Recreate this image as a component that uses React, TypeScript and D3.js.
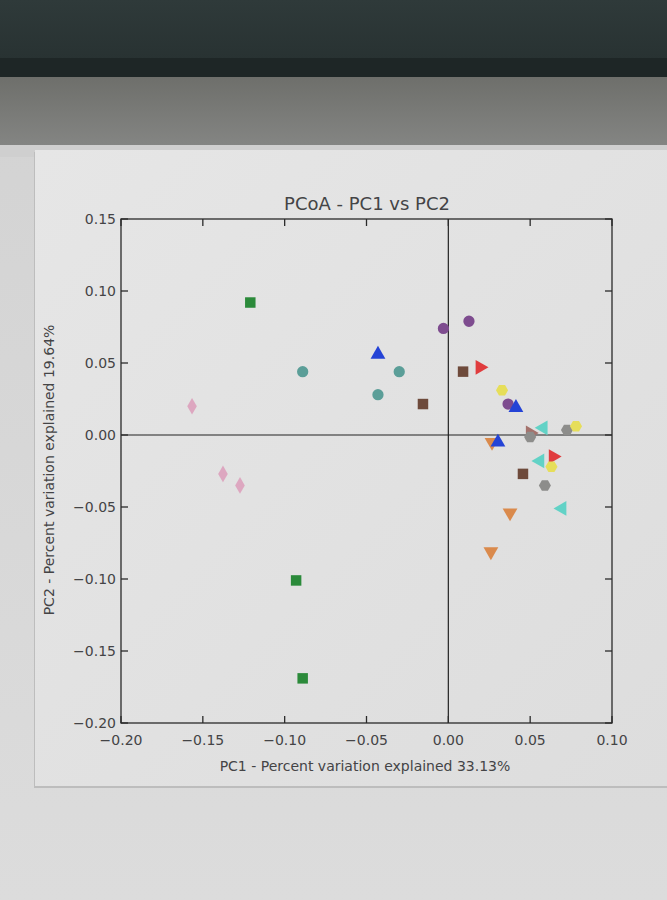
import * as d3 from "d3";
import React from "react";

// sample coordinates
const pc1 = [
  -0.121, -0.093, -0.089, -0.089, -0.043, -0.03, -0.043, -0.0155, -0.003, 0.0126,
  0.009, 0.0193, 0.0328, 0.0365, 0.0413, 0.0267, 0.0303, 0.05, 0.05, 0.058,
  0.0725, 0.078, 0.064, 0.056, 0.063, 0.0456, 0.059, 0.0695, 0.0377, 0.026,
  -0.1566, -0.1377, -0.1273,
];
const pc2 = [
  0.092, -0.101, -0.169, 0.044, 0.028, 0.044, 0.056, 0.0215, 0.074, 0.079,
  0.044, 0.047, 0.031, 0.0215, 0.019, -0.005, -0.005, 0.0014, -0.0014, 0.005,
  0.0035, 0.006, -0.015, -0.018, -0.022, -0.027, -0.035, -0.051, -0.054, -0.081,
  0.02, -0.027, -0.035,
];
const groups = [
  "A", "A", "A", "B", "B", "B", "C", "D", "E", "E",
  "D", "F", "G", "E", "C", "H", "C", "I", "J", "K",
  "J", "G", "F", "K", "G", "D", "J", "K", "H", "H",
  "L", "L", "L",
];
const xTicks = [-0.2, -0.15, -0.1, -0.05, 0, 0.05, 0.1];
const yTicks = [-0.2, -0.15, -0.1, -0.05, 0, 0.05, 0.1, 0.15];

const hexagon = {
  draw(context: any, size: number) {
    const r = Math.sqrt(size / 2.598);
    for (let i = 0; i < 6; i++) {
      const a = (Math.PI / 3) * i;
      const px = r * Math.cos(a);
      const py = r * Math.sin(a);
      if (i === 0) context.moveTo(px, py);
      else context.lineTo(px, py);
    }
    context.closePath();
  },
};

// group -> colour, marker shape, rotation, size
const style: Record<string, { color: string; type: any; rot: number; size: number; sx?: number }> = {
  A: { color: "#2b8a3a", type: d3.symbolSquare, rot: 0, size: 110 },
  B: { color: "#5b9e98", type: d3.symbolCircle, rot: 0, size: 100 },
  C: { color: "#2443d6", type: d3.symbolTriangle, rot: 0, size: 95 },
  D: { color: "#6e4a3b", type: d3.symbolSquare, rot: 0, size: 110 },
  E: { color: "#7e4c8f", type: d3.symbolCircle, rot: 0, size: 100 },
  F: { color: "#e03c3e", type: d3.symbolTriangle, rot: 90, size: 95 },
  G: { color: "#e6de5a", type: hexagon, rot: 0, size: 95 },
  H: { color: "#da8a4c", type: d3.symbolTriangle, rot: 180, size: 95 },
  I: { color: "#a4726c", type: d3.symbolTriangle, rot: 90, size: 95 },
  J: { color: "#8d8d8b", type: hexagon, rot: 0, size: 95 },
  K: { color: "#62d2c6", type: d3.symbolTriangle, rot: -90, size: 95 },
  L: { color: "#dc9cba", type: d3.symbolDiamond, rot: 0, size: 80, sx: 1 },
};

const W = 667;
const H = 900;
const x = d3.scaleLinear().domain([-0.2, 0.1]).range([121, 612]);
const y = d3.scaleLinear().domain([-0.2, 0.15]).range([723, 219]);
const fmt = d3.format(".2f");
const label = (v: number) => fmt(v).replace("-", "\u2212");
const font = "'DejaVu Sans', sans-serif";
const textColor = "#444446";
const tickLen = 7;

export default function App() {
  const points = pc1.map((v, i) => ({ x: v, y: pc2[i], g: groups[i] }));
  return (
    <div style={{ position: "absolute", left: 0, top: 0 }}>
      <svg width={W} height={H} style={{ display: "block" }}>
        <defs>
          <linearGradient id="top" x1="0" y1="0" x2="0" y2="1">
            <stop offset="0" stopColor="#2f3a3a" />
            <stop offset="1" stopColor="#283232" />
          </linearGradient>
          <linearGradient id="band" x1="0" y1="0" x2="0" y2="1">
            <stop offset="0" stopColor="#6e6f6b" />
            <stop offset="1" stopColor="#848583" />
          </linearGradient>
          <linearGradient id="panel" x1="0" y1="0" x2="1" y2="1">
            <stop offset="0" stopColor="#e6e6e6" />
            <stop offset="1" stopColor="#dddddd" />
          </linearGradient>
          <linearGradient id="below" x1="0" y1="0" x2="0" y2="1">
            <stop offset="0" stopColor="#d2d2d2" />
            <stop offset="1" stopColor="#dcdcdc" />
          </linearGradient>
        </defs>
        {/* photo background */}
        <rect x={0} y={0} width={W} height={H} fill="url(#below)" />
        <rect x={0} y={0} width={W} height={60} fill="url(#top)" />
        <rect x={0} y={58} width={W} height={20} fill="#1e2626" />
        <rect x={0} y={77} width={W} height={69} fill="url(#band)" />
        <rect x={0} y={145} width={W} height={12} fill="#cfcfcf" />
        <rect x={34} y={152} width={W - 34} height={636} fill="#bdbdbd" />
        <rect x={35} y={150} width={W - 35} height={636} fill="url(#panel)" />

        {/* title */}
        <text x={367} y={210} textAnchor="middle" fontFamily={font} fontSize={18} fill={textColor}>
          PCoA - PC1 vs PC2
        </text>

        {/* zero lines */}
        <line x1={x(0)} x2={x(0)} y1={y(0.15)} y2={y(-0.2)} stroke="#222" strokeWidth={1.2} />
        <line x1={x(-0.2)} x2={x(0.1)} y1={y(0)} y2={y(0)} stroke="#222" strokeWidth={1.2} />

        {/* frame */}
        <rect
          x={x(-0.2)}
          y={y(0.15)}
          width={x(0.1) - x(-0.2)}
          height={y(-0.2) - y(0.15)}
          fill="none"
          stroke="#2a2a2a"
          strokeWidth={1.3}
        />

        {/* x ticks */}
        {xTicks.map((t) => (
          <g key={"x" + t}>
            <line x1={x(t)} x2={x(t)} y1={y(-0.2)} y2={y(-0.2) - tickLen} stroke="#2a2a2a" strokeWidth={1.3} />
            <line x1={x(t)} x2={x(t)} y1={y(0.15)} y2={y(0.15) + tickLen} stroke="#2a2a2a" strokeWidth={1.3} />
            <text x={x(t)} y={y(-0.2) + 22} textAnchor="middle" fontFamily={font} fontSize={14} fill={textColor}>
              {label(t)}
            </text>
          </g>
        ))}

        {/* y ticks */}
        {yTicks.map((t) => (
          <g key={"y" + t}>
            <line x1={x(-0.2)} x2={x(-0.2) + tickLen} y1={y(t)} y2={y(t)} stroke="#2a2a2a" strokeWidth={1.3} />
            <line x1={x(0.1)} x2={x(0.1) - tickLen} y1={y(t)} y2={y(t)} stroke="#2a2a2a" strokeWidth={1.3} />
            <text x={x(-0.2) - 5} y={y(t) + 5} textAnchor="end" fontFamily={font} fontSize={14} fill={textColor}>
              {label(t)}
            </text>
          </g>
        ))}

        {/* axis labels */}
        <text x={365} y={771} textAnchor="middle" fontFamily={font} fontSize={14} fill={textColor}>
          PC1 - Percent variation explained 33.13%
        </text>
        <text
          transform={`translate(54,${470}) rotate(-90)`}
          textAnchor="middle"
          fontFamily={font}
          fontSize={14}
          fill={textColor}
        >
          PC2 - Percent variation explained 19.64%
        </text>

        {/* points */}
        {points.map((p, i) => {
          const s = style[p.g];
          const path = d3.symbol().type(s.type).size(s.size)();
          return (
            <path
              key={i}
              d={path || ""}
              transform={`translate(${x(p.x)},${y(p.y)}) rotate(${s.rot}) scale(${s.sx ?? 1},1)`}
              fill={s.color}
              opacity={p.g === "L" ? 0.85 : 1}
            />
          );
        })}
      </svg>
    </div>
  );
}
